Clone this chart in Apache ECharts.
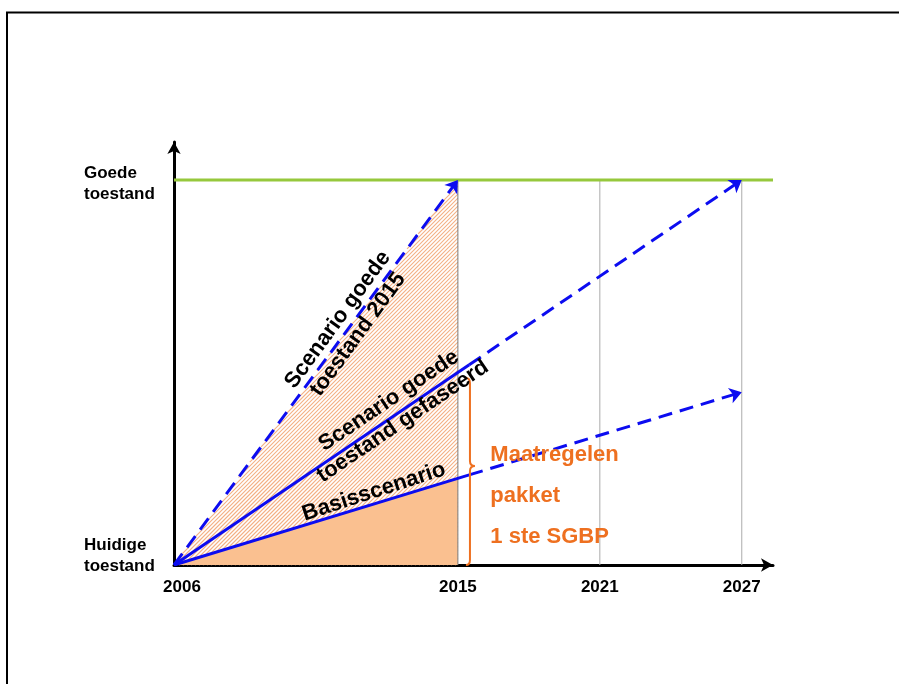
<!DOCTYPE html>
<html><head><meta charset="utf-8">
<script src="https://cdn.jsdelivr.net/npm/echarts@6/dist/echarts.min.js"></script>
<style>html,body{margin:0;padding:0;background:#fff}#c{width:899px;height:684px}</style>
</head><body><div id="c"></div>
<script>
// ---- data ----
const xTickValues = [0, 2, 3, 4];
const xTickLabels = ['2006', '2015', '2021', '2027'];
const yTickValues = [0, 1];
const yTickLabels = ['Huidige\ntoestand', 'Goede\ntoestand'];
const goedeLevel = [[0, 1], [4.22, 1]];
const scenario2015 = [[0, 0], [2, 1]];
const gefaseerdSolid = [[0, 0], [2.08, 0.52]];
const gefaseerdDashed = [[2.08, 0.52], [4, 1]];
const basisSolid = [[0, 0], [2.08, 0.234]];
const basisDashed = [[2.08, 0.234], [4, 0.449]];
const basisFill = [[0, 0], [2, 0.225]];
const hatchFill = [[0, 0], [2, 1], [2, 0]];
const yearLines = [2, 3, 4];
const brace = [[2.085, 0, 0.486, 0.257]];
const lineLabels = [
  { value: [1.225, 0.618], text: 'Scenario goede\ntoestand 2015', rotate: 54 },
  { value: [1.563, 0.40], text: 'Scenario goede\ntoestand gefaseerd', rotate: 34 },
  { value: [1.408, 0.19], text: 'Basisscenario', rotate: 18 }
];
const packageLabel = { value: [2.225, 0.179], text: 'Maatregelen\npakket\n1 ste SGBP' };

// ---- styles ----
const FONT = '"Liberation Sans", Arial, sans-serif';
const BLUE = '#0c0cf0';
const ORANGE = '#ee7020';
const GREEN = '#96c83c';

function dashedArrow(seg) {
  return {
    type: 'line', data: seg, showSymbol: false, silent: true,
    lineStyle: { opacity: 0 }, z: 5,
    markLine: {
      silent: true, animation: false,
      symbol: ['none', 'arrow'], symbolSize: 12,
      label: { show: false },
      lineStyle: { color: BLUE, width: 3, type: [14, 8] },
      emphasis: { disabled: true },
      data: [[{ coord: seg[0] }, { coord: seg[1] }]]
    }
  };
}
function solid(seg) {
  return { type: 'line', data: seg, showSymbol: false, silent: true, z: 5,
    lineStyle: { color: BLUE, width: 3 } };
}

// clip a "/" hatch line (x + y = c in pixels) to a convex polygon
function clipHatch(poly, c) {
  const pts = [];
  for (let i = 0; i < poly.length; i++) {
    const p = poly[i], q = poly[(i + 1) % poly.length];
    const fp = p[0] + p[1] - c, fq = q[0] + q[1] - c;
    if ((fp <= 0 && fq >= 0) || (fp >= 0 && fq <= 0)) {
      if (fp === fq) continue;
      const t = fp / (fp - fq);
      pts.push([p[0] + t * (q[0] - p[0]), p[1] + t * (q[1] - p[1])]);
    }
  }
  if (pts.length < 2) return null;
  pts.sort((a, b) => a[0] - b[0]);
  return [pts[0], pts[pts.length - 1]];
}

const series = [
  {
    type: 'custom', data: [0], silent: true, z: 1,
    renderItem: (params, api) => {
      if (params.dataIndex !== 0) return null;
      const poly = hatchFill.map(p => api.coord(p));
      const sums = poly.map(p => p[0] + p[1]);
      const lo = Math.min(...sums), hi = Math.max(...sums);
      const children = [{ type: 'polygon', shape: { points: poly }, style: { fill: '#fff' } }];
      for (let c = Math.ceil(lo / 4) * 4; c <= hi; c += 4) {
        const s = clipHatch(poly, c);
        if (s) children.push({ type: 'line',
          shape: { x1: s[0][0], y1: s[0][1], x2: s[1][0], y2: s[1][1] },
          style: { stroke: '#f4b084', lineWidth: 1.1 } });
      }
      return { type: 'group', children: children };
    }
  },
  { type: 'line', data: basisFill, showSymbol: false, silent: true, z: 2,
    lineStyle: { width: 0 }, areaStyle: { color: '#fac090', opacity: 1 } }
];
yearLines.forEach(v => {
  series.push({ type: 'line', data: [[v, 0], [v, 1]], showSymbol: false, silent: true, z: 3,
    lineStyle: { color: v === 2 ? '#7a7a7a' : '#ababab', width: 1 } });
});
series.push({ type: 'line', data: goedeLevel, showSymbol: false, silent: true, z: 4,
  lineStyle: { color: GREEN, width: 3 } });
series.push(dashedArrow(scenario2015));
series.push(solid(gefaseerdSolid));
series.push(dashedArrow(gefaseerdDashed));
series.push(solid(basisSolid));
series.push(dashedArrow(basisDashed));
series.push({
  type: 'custom', data: brace, silent: true, z: 6,
  renderItem: (params, api) => {
    const x = api.coord([api.value(0), api.value(1)])[0];
    const yb = api.coord([api.value(0), api.value(1)])[1];
    const yt = api.coord([api.value(0), api.value(2)])[1];
    const ym = api.coord([api.value(0), api.value(3)])[1];
    const r = 5;
    const d = `M${x - 4} ${yt} Q${x} ${yt} ${x} ${yt + r} L${x} ${ym - r} Q${x} ${ym} ${x + 5} ${ym} Q${x} ${ym} ${x} ${ym + r} L${x} ${yb - r} Q${x} ${yb} ${x - 4} ${yb}`;
    return { type: 'path', shape: { pathData: d }, style: { stroke: ORANGE, fill: 'none', lineWidth: 2 } };
  }
});
series.push({
  type: 'scatter', silent: true, symbolSize: 1, itemStyle: { color: 'rgba(0,0,0,0)', opacity: 1 }, z: 7,
  data: lineLabels.map(l => ({
    value: l.value,
    label: { show: true, position: 'inside', formatter: l.text, rotate: l.rotate,
      align: 'center', verticalAlign: 'middle', fontSize: 22, lineHeight: 25,
      fontWeight: 'bold', fontFamily: FONT, color: '#000' }
  }))
});
series.push({
  type: 'scatter', silent: true, symbolSize: 1, itemStyle: { color: 'rgba(0,0,0,0)', opacity: 1 }, z: 7,
  data: [{
    value: packageLabel.value,
    label: { show: true, position: 'right', distance: 0, formatter: packageLabel.text,
      align: 'left', verticalAlign: 'middle', fontSize: 22, lineHeight: 41,
      fontWeight: 'bold', fontFamily: FONT, color: ORANGE }
  }]
});

const labelText = { fontSize: 17, fontWeight: 'bold', fontFamily: FONT, color: '#000' };

const option = {
  animation: false,
  backgroundColor: '#fff',
  grid: { left: 174, right: 126, top: 142, bottom: 119, containLabel: false },
  graphic: [{ type: 'rect', shape: { x: 7, y: 12.5, width: 1000, height: 1000 },
    style: { stroke: '#000', lineWidth: 2, fill: 'none' }, silent: true }],
  xAxis: {
    type: 'value', min: 0, max: 4.22, interval: 1,
    axisLine: { show: true, onZero: false, symbol: ['none', 'arrow'], symbolSize: [10, 12],
      lineStyle: { color: '#000', width: 3 } },
    axisTick: { show: false }, splitLine: { show: false },
    axisLabel: Object.assign({}, labelText, {
      margin: 14, showMaxLabel: false,
      formatter: v => {
        const i = xTickValues.indexOf(v);
        if (i < 0) return '';
        return i === 0 ? '{p|' + xTickLabels[i] + '}' : xTickLabels[i];
      },
      rich: { p: Object.assign({}, labelText, { padding: [0, 0, 0, 16] }) }
    })
  },
  yAxis: {
    type: 'value', min: 0, max: 1.0987, interval: 1,
    axisLine: { show: true, onZero: false, symbol: ['none', 'arrow'], symbolSize: [10, 12],
      lineStyle: { color: '#000', width: 3 } },
    axisTick: { show: false }, splitLine: { show: false },
    axisLabel: Object.assign({}, labelText, {
      align: 'left', margin: 90, showMaxLabel: false,
      formatter: v => {
        const i = yTickValues.indexOf(v);
        if (i < 0) return '';
        const parts = yTickLabels[i].split('\n').map(s => '{t|' + s + '}');
        return i === 0 ? parts.join('\n') + '\n{b| }' : '{s| }\n' + parts.join('\n');
      },
      rich: {
        t: Object.assign({}, labelText, { lineHeight: 21 }),
        s: { fontSize: 1, lineHeight: 7 },
        b: { fontSize: 1, lineHeight: 18 }
      }
    })
  },
  series: series
};

const chart = echarts.init(document.getElementById('c'), null, { renderer: 'canvas' });
chart.setOption(option);
</script>
</body></html>
